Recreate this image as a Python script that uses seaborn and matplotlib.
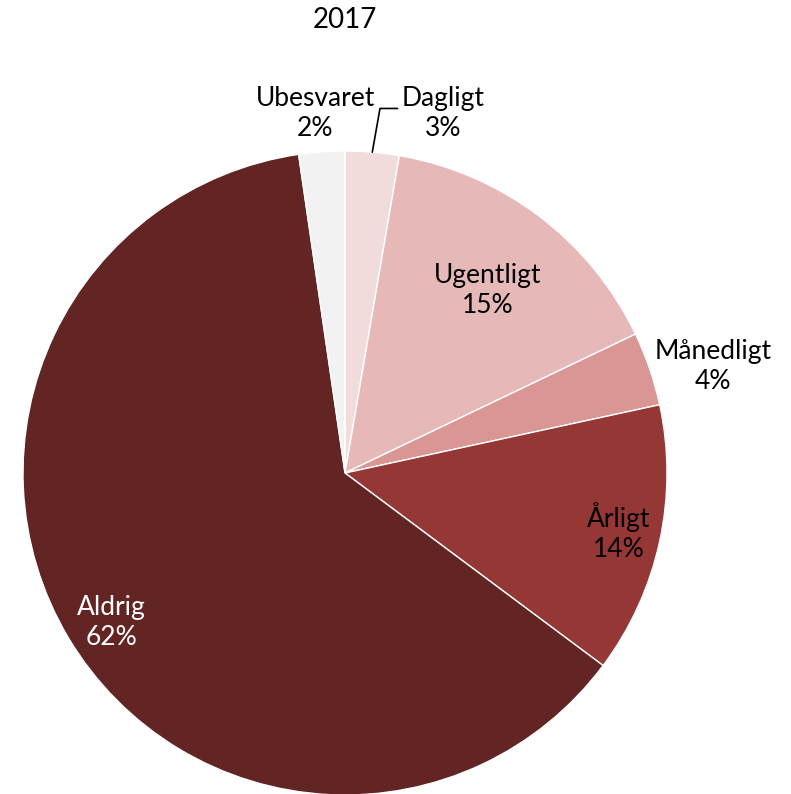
import numpy as np
import matplotlib
matplotlib.use("Agg")
import matplotlib.pyplot as plt
import seaborn as sns

sns.set_theme(style="white")
plt.rcParams['font.family'] = ['Lato', 'DejaVu Sans']

# data
categories = ['Dagligt', 'Ugentligt', 'Månedligt', 'Årligt', 'Aldrig', 'Ubesvaret']
values = [2.7, 15.2, 3.7, 13.6, 62.5, 2.3]
pct_labels = ['3%', '15%', '4%', '14%', '62%', '2%']
colors = ['#F2DCDB', '#E6B9B8', '#D99694', '#953735', '#632523', '#F2F2F2']
text_colors = ['black', 'black', 'black', 'black', 'white', 'black']
# label placement: radial distance and small angular nudge (degrees, clockwise)
label_dist = [1.16, 0.72, 1.19, 0.87, 0.86, 1.12]
label_nudge = [0, 1.0, 2.8, 0, -1.8, -0.6]

W, H = 791, 794
fig = plt.figure(figsize=(W / 100, H / 100), dpi=100)
cx, cy, r = 345, 473, 322
ax = fig.add_axes([(cx - r) / W, (H - cy - r) / H, 2 * r / W, 2 * r / H])

wedges, _ = ax.pie(values, colors=colors, startangle=90, counterclock=False,
                   wedgeprops=dict(edgecolor='white', linewidth=1))
ax.set_xlim(-1, 1)
ax.set_ylim(-1, 1)
ax.set_aspect('equal')
ax.axis('off')

fs = 19
ls = 1.25
for i, w in enumerate(wedges):
    mid_deg = (w.theta1 + w.theta2) / 2
    mid = np.deg2rad(mid_deg - label_nudge[i])
    d = label_dist[i]
    x, y = d * np.cos(mid), d * np.sin(mid)
    txt = categories[i] + '\n' + pct_labels[i]
    if categories[i] == 'Dagligt':
        # label pulled to the right with a leader line
        ex, ey = np.cos(np.deg2rad(mid_deg)), np.sin(np.deg2rad(mid_deg))
        ax.annotate(txt, xy=(ex, ey), xytext=(0.305, 1.115),
                    ha='center', va='center', fontsize=fs, color='black',
                    linespacing=ls,
                    arrowprops=dict(arrowstyle='-', color='black', lw=1.2,
                                    shrinkA=0, shrinkB=0,
                                    connectionstyle='angle,angleA=0,angleB=80,rad=0',
                                    relpos=(-0.05, 0.6)),
                    annotation_clip=False)
    else:
        ax.text(x, y, txt, ha='center', va='center', fontsize=fs,
                color=text_colors[i], linespacing=ls, clip_on=False)

fig.text(cx / W, 1 - 20 / H, '2017', ha='center', va='center', fontsize=20, color='black')

fig.savefig('out.png', dpi=100)
